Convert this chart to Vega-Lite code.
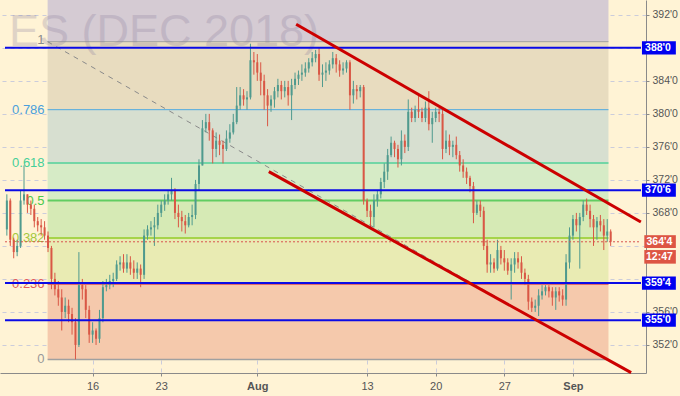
{
"$schema":"https://vega.github.io/schema/vega-lite/v6.json",
"width":646,"height":373,"autosize":"none",
"padding":{"left":0,"top":0,"right":34,"bottom":23},
"background":"#fff3d5",
"config":{"view":{"stroke":null},"axis":{"zindex":1}},
"datasets":{
"bands":[
{"t":-3.28,"t2":37.59,"p":388.75,"p2":393.8,"fill":"#d5cbd3"},
{"t":-3.28,"t2":37.59,"p":380.51,"p2":388.75,"fill":"#e8dcbf"},
{"t":-3.28,"t2":37.59,"p":374.04,"p2":380.51,"fill":"#d7dfd0"},
{"t":-3.28,"t2":37.59,"p":369.5,"p2":374.04,"fill":"#d6ebc6"},
{"t":-3.28,"t2":37.59,"p":364.96,"p2":369.5,"fill":"#d6eab5"},
{"t":-3.28,"t2":37.59,"p":359.34,"p2":364.96,"fill":"#e9ebb3"},
{"t":-3.28,"t2":37.59,"p":350.25,"p2":359.34,"fill":"#f5c9ac"}],
"fib":[
{"t":-3.28,"t2":37.59,"p":388.75,"col":"#a0a0a0","w":1},
{"t":-3.28,"t2":37.59,"p":380.51,"col":"#4ea8e0","w":1},
{"t":-3.28,"t2":37.59,"p":374.04,"col":"#72d6a6","w":2},
{"t":-3.28,"t2":37.59,"p":369.5,"col":"#62cd62","w":2},
{"t":-3.28,"t2":37.59,"p":364.96,"col":"#a6d44a","w":2},
{"t":-3.28,"t2":37.59,"p":359.34,"col":"#e06a6a","w":1.5},
{"t":-3.28,"t2":37.59,"p":350.25,"col":"#a0a0a0","w":1.5}],
"fiblab":[
{"t":-3.5,"p":389.0,"txt":"1","col":"#8c8c8c"},
{"t":-3.5,"p":380.51,"txt":"0.786","col":"#4a9fdc"},
{"t":-3.5,"p":374.04,"txt":"0.618","col":"#45cf98"},
{"t":-3.5,"p":369.5,"txt":"0.5","col":"#4cc94c"},
{"t":-3.5,"p":364.96,"txt":"0.382","col":"#a3c73c"},
{"t":-3.5,"p":359.34,"txt":"0.236","col":"#e25c5c"},
{"t":-3.5,"p":350.25,"txt":"0","col":"#999999"}],
"wm":[{"t":-6.1,"p":388.2,"txt":"ES (DEC 2018)"}],
"trend":[{"t":-3.28,"p":388.75,"t2":37.4,"p2":350.25}],
"hl":[
{"t":-6.385,"t2":39.96,"p":388.0},
{"t":-6.385,"t2":39.96,"p":370.75},
{"t":-6.385,"t2":39.96,"p":359.5},
{"t":-6.385,"t2":39.96,"p":355.0}],
"pl":[{"t":-6.385,"t2":39.96,"p":364.5}],
"chan":[
{"t":14.83,"p":390.87,"t2":39.95,"p2":366.89},
{"t":12.84,"p":373.0,"t2":39.24,"p2":348.64}],
"tagbox":[
{"t":40.03,"t2":42.5,"p":387.2,"p2":388.8,"fill":"#0000f0"},
{"t":40.03,"t2":42.5,"p":369.95,"p2":371.55,"fill":"#0000f0"},
{"t":40.03,"t2":42.5,"p":358.7,"p2":360.3,"fill":"#0000f0"},
{"t":40.03,"t2":42.5,"p":354.2,"p2":355.8,"fill":"#0000f0"},
{"t":40.2,"t2":42.5,"p":363.75,"p2":365.3,"fill":"#dd5544"},
{"t":40.2,"t2":42.5,"p":361.85,"p2":363.5,"fill":"#dd5544"}],
"tagtext":[
{"t":41.2,"p":388.0,"txt":"388'0"},
{"t":41.2,"p":370.75,"txt":"370'6"},
{"t":41.2,"p":359.5,"txt":"359'4"},
{"t":41.2,"p":355.0,"txt":"355'0"},
{"t":41.3,"p":364.5,"txt":"364'4"},
{"t":41.3,"p":362.67,"txt":"12:47"}],
"candles":[
{"t":-6.25,"o":366,"p2":370.25,"p":365.25,"c":369.5},
{"t":-6,"o":369.5,"p2":369.75,"p":364,"c":364.75},
{"t":-5.75,"o":364.75,"p2":365,"p":362.5,"c":363.25},
{"t":-5.5,"o":363.25,"p2":364.75,"p":362.75,"c":364},
{"t":-5.25,"o":364,"p2":370.75,"p":363.75,"c":369.5},
{"t":-5,"o":369.5,"p2":373.75,"p":369,"c":370.25},
{"t":-4.75,"o":370.25,"p2":370.25,"p":368,"c":369},
{"t":-4.5,"o":369,"p2":369.5,"p":367.75,"c":368.5},
{"t":-4.25,"o":368.5,"p2":369,"p":366.25,"c":367},
{"t":-4,"o":367,"p2":367.5,"p":365.75,"c":366.5},
{"t":-3.75,"o":366.5,"p2":367.25,"p":365.25,"c":366.25},
{"t":-3.5,"o":366.25,"p2":367,"p":364.75,"c":365.25},
{"t":-3.25,"o":365.25,"p2":365.75,"p":363.25,"c":363.75},
{"t":-3,"o":363.75,"p2":364,"p":358.75,"c":360},
{"t":-2.75,"o":360,"p2":360.75,"p":358,"c":358.75},
{"t":-2.5,"o":358.75,"p2":359.75,"p":356.75,"c":357.75},
{"t":-2.25,"o":357.75,"p2":358.75,"p":353.75,"c":356},
{"t":-2,"o":356,"p2":357.75,"p":355.25,"c":356.75},
{"t":-1.75,"o":356.75,"p2":357.5,"p":354.75,"c":355.75},
{"t":-1.5,"o":355.75,"p2":356.5,"p":353.25,"c":354.75},
{"t":-1.25,"o":354.75,"p2":355.25,"p":350.25,"c":352},
{"t":-1,"o":352,"p2":363.25,"p":351.75,"c":359.25},
{"t":-0.75,"o":359.25,"p2":360,"p":357.5,"c":358.75},
{"t":-0.5,"o":358.75,"p2":359.25,"p":355.25,"c":356.25},
{"t":-0.25,"o":356.25,"p2":356.75,"p":352.25,"c":353.25},
{"t":0,"o":353.25,"p2":354.75,"p":352.25,"c":353.75},
{"t":0.25,"o":353.75,"p2":354,"p":352,"c":352.75},
{"t":0.5,"o":352.75,"p2":356.25,"p":352.25,"c":355.25},
{"t":0.75,"o":355.25,"p2":359.75,"p":354.75,"c":359},
{"t":1,"o":359,"p2":360,"p":358.5,"c":359.25},
{"t":1.25,"o":359.25,"p2":360.5,"p":358.75,"c":359.75},
{"t":1.5,"o":359.75,"p2":360.75,"p":359,"c":360},
{"t":1.75,"o":360,"p2":362.25,"p":359.75,"c":361.75},
{"t":2,"o":361.75,"p2":362.75,"p":361,"c":362},
{"t":2.25,"o":362,"p2":363,"p":360.75,"c":361.25},
{"t":2.5,"o":361.25,"p2":363,"p":360.75,"c":362},
{"t":2.75,"o":362,"p2":362.75,"p":360.5,"c":361.25},
{"t":3,"o":361.25,"p2":362.25,"p":360,"c":360.75},
{"t":3.25,"o":360.75,"p2":362,"p":360,"c":361.25},
{"t":3.5,"o":361.25,"p2":361.75,"p":359,"c":360.5},
{"t":3.75,"o":360.5,"p2":366,"p":360,"c":365.25},
{"t":4,"o":365.25,"p2":366.5,"p":364.75,"c":366},
{"t":4.25,"o":366,"p2":367,"p":365.25,"c":366.25},
{"t":4.5,"o":366.25,"p2":367.5,"p":364,"c":366.5},
{"t":4.75,"o":366.5,"p2":369,"p":366,"c":368},
{"t":5,"o":368,"p2":369.5,"p":367.5,"c":369},
{"t":5.25,"o":369,"p2":370.25,"p":368.25,"c":369.5},
{"t":5.5,"o":369.5,"p2":370.75,"p":369,"c":370.25},
{"t":5.75,"o":370.25,"p2":372.25,"p":369.5,"c":370.75},
{"t":6,"o":370.75,"p2":371,"p":367.25,"c":368},
{"t":6.25,"o":368,"p2":369,"p":366.25,"c":367.5},
{"t":6.5,"o":367.5,"p2":368.25,"p":365.75,"c":367},
{"t":6.75,"o":367,"p2":367.75,"p":365.5,"c":366.5},
{"t":7,"o":366.5,"p2":368,"p":366.25,"c":367.5},
{"t":7.25,"o":367.5,"p2":369,"p":366.5,"c":367.75},
{"t":7.5,"o":367.75,"p2":372,"p":367.25,"c":371.5},
{"t":7.75,"o":371.5,"p2":374.5,"p":370.75,"c":373.75},
{"t":8,"o":373.75,"p2":379.25,"p":373.75,"c":378.25},
{"t":8.25,"o":378.25,"p2":380,"p":377.75,"c":379},
{"t":8.5,"o":379,"p2":380,"p":376.75,"c":378},
{"t":8.75,"o":378,"p2":378.25,"p":374,"c":375.75},
{"t":9,"o":375.75,"p2":377.75,"p":374.75,"c":376.75},
{"t":9.25,"o":376.75,"p2":377.5,"p":375,"c":376.25},
{"t":9.5,"o":376.25,"p2":376.75,"p":374,"c":375.75},
{"t":9.75,"o":375.75,"p2":378,"p":375.5,"c":377},
{"t":10,"o":377,"p2":378.75,"p":376.5,"c":377.75},
{"t":10.25,"o":377.75,"p2":380,"p":377.5,"c":379},
{"t":10.5,"o":379,"p2":383.25,"p":378.75,"c":381},
{"t":10.75,"o":381,"p2":383.25,"p":380.5,"c":382.25},
{"t":11,"o":382.25,"p2":383,"p":381,"c":381.75},
{"t":11.25,"o":381.75,"p2":382.75,"p":380.5,"c":382},
{"t":11.5,"o":382,"p2":388.5,"p":381.75,"c":386.5},
{"t":11.75,"o":386.5,"p2":387.5,"p":384.75,"c":386.25},
{"t":12,"o":386.25,"p2":387.25,"p":384,"c":385},
{"t":12.25,"o":385,"p2":386.25,"p":382.25,"c":384},
{"t":12.5,"o":384,"p2":384.75,"p":380.5,"c":382.25},
{"t":12.75,"o":382.25,"p2":383,"p":378.5,"c":381},
{"t":13,"o":381,"p2":382.25,"p":380.25,"c":381.75},
{"t":13.25,"o":381.75,"p2":383.25,"p":380.75,"c":382.75},
{"t":13.5,"o":382.75,"p2":384.25,"p":382,"c":383.5},
{"t":13.75,"o":383.5,"p2":384,"p":381.75,"c":382.75},
{"t":14,"o":382.75,"p2":384,"p":382,"c":383.25},
{"t":14.25,"o":383.25,"p2":384,"p":381,"c":382.25},
{"t":14.5,"o":382.25,"p2":384.25,"p":379.25,"c":383.5},
{"t":14.75,"o":383.5,"p2":385,"p":383,"c":384.25},
{"t":15,"o":384.25,"p2":385.25,"p":383.5,"c":384.75},
{"t":15.25,"o":384.75,"p2":386,"p":384,"c":385},
{"t":15.5,"o":385,"p2":386.25,"p":384.5,"c":385.5},
{"t":15.75,"o":385.5,"p2":386.75,"p":385,"c":386.25},
{"t":16,"o":386.25,"p2":387.5,"p":385.75,"c":386.75},
{"t":16.25,"o":386.75,"p2":387.75,"p":386.25,"c":387.25},
{"t":16.5,"o":387.25,"p2":388,"p":384,"c":384.75},
{"t":16.75,"o":384.75,"p2":386,"p":383.25,"c":385},
{"t":17,"o":385,"p2":386.25,"p":384,"c":385.25},
{"t":17.25,"o":385.25,"p2":386.5,"p":384.75,"c":386},
{"t":17.5,"o":386,"p2":387.5,"p":385.5,"c":386.75},
{"t":17.75,"o":386.75,"p2":387.25,"p":385,"c":386},
{"t":18,"o":386,"p2":386.5,"p":384.5,"c":385.25},
{"t":18.25,"o":385.25,"p2":386.25,"p":384.75,"c":385.5},
{"t":18.5,"o":385.5,"p2":386.5,"p":385,"c":386.25},
{"t":18.75,"o":386.25,"p2":386.5,"p":380.5,"c":382.25},
{"t":19,"o":382.25,"p2":384,"p":381.25,"c":383},
{"t":19.25,"o":383,"p2":383.5,"p":381.75,"c":382.75},
{"t":19.5,"o":382.75,"p2":383.5,"p":382,"c":383.25},
{"t":19.75,"o":383.25,"p2":383.5,"p":369,"c":369.5},
{"t":20,"o":369.5,"p2":369.75,"p":367.5,"c":368.25},
{"t":20.25,"o":368.25,"p2":369,"p":366.25,"c":367.5},
{"t":20.5,"o":367.5,"p2":370.25,"p":366.25,"c":369.5},
{"t":20.75,"o":369.5,"p2":370.75,"p":368.75,"c":370.25},
{"t":21,"o":370.25,"p2":372.25,"p":369.75,"c":371.75},
{"t":21.25,"o":371.75,"p2":374,"p":371,"c":373},
{"t":21.5,"o":373,"p2":375.75,"p":372,"c":375},
{"t":21.75,"o":375,"p2":377.25,"p":374.75,"c":376.5},
{"t":22,"o":376.5,"p2":376.75,"p":374.75,"c":375.75},
{"t":22.25,"o":375.75,"p2":376.25,"p":373.5,"c":374.5},
{"t":22.5,"o":374.5,"p2":378,"p":373.75,"c":376.75},
{"t":22.75,"o":376.75,"p2":377.5,"p":375.25,"c":376},
{"t":23,"o":376,"p2":381.75,"p":375.5,"c":380.25},
{"t":23.25,"o":380.25,"p2":380.75,"p":379,"c":379.5},
{"t":23.5,"o":379.5,"p2":381,"p":379,"c":380.5},
{"t":23.75,"o":380.5,"p2":382.25,"p":379.5,"c":380.25},
{"t":24,"o":380.25,"p2":380.75,"p":379,"c":379.5},
{"t":24.25,"o":379.5,"p2":381.5,"p":379,"c":380.75},
{"t":24.5,"o":380.75,"p2":382.75,"p":378,"c":378.75},
{"t":24.75,"o":378.75,"p2":380.25,"p":376.5,"c":379.5},
{"t":25,"o":379.5,"p2":380.75,"p":379,"c":380.25},
{"t":25.25,"o":380.25,"p2":380.75,"p":379,"c":380},
{"t":25.5,"o":380,"p2":380.5,"p":374.5,"c":375.75},
{"t":25.75,"o":375.75,"p2":378,"p":375.25,"c":376.75},
{"t":26,"o":376.75,"p2":377.5,"p":375,"c":376},
{"t":26.25,"o":376,"p2":376.75,"p":374.75,"c":376.25},
{"t":26.5,"o":376.25,"p2":377.25,"p":374.5,"c":375},
{"t":26.75,"o":375,"p2":375.5,"p":373,"c":373.75},
{"t":27,"o":373.75,"p2":374.5,"p":372.25,"c":373},
{"t":27.25,"o":373,"p2":373.5,"p":371.5,"c":372.25},
{"t":27.5,"o":372.25,"p2":372.5,"p":370.5,"c":371.25},
{"t":27.75,"o":371.25,"p2":371.75,"p":366.75,"c":368},
{"t":28,"o":368,"p2":369.5,"p":367.75,"c":369},
{"t":28.25,"o":369,"p2":369.5,"p":367.5,"c":368.25},
{"t":28.5,"o":368.25,"p2":368.75,"p":363.5,"c":364},
{"t":28.75,"o":364,"p2":364.75,"p":360.75,"c":361.75},
{"t":29,"o":361.75,"p2":363,"p":360.75,"c":362},
{"t":29.25,"o":362,"p2":362.5,"p":360.75,"c":361.25},
{"t":29.5,"o":361.25,"p2":364.75,"p":361,"c":363.5},
{"t":29.75,"o":363.5,"p2":364,"p":361.75,"c":362.5},
{"t":30,"o":362.5,"p2":363.5,"p":361,"c":362},
{"t":30.25,"o":362,"p2":362.5,"p":360.5,"c":361},
{"t":30.5,"o":361,"p2":362.5,"p":357.5,"c":361.75},
{"t":30.75,"o":361.75,"p2":363.25,"p":360.75,"c":362.5},
{"t":31,"o":362.5,"p2":363.25,"p":361.25,"c":362},
{"t":31.25,"o":362,"p2":362.75,"p":360,"c":360.75},
{"t":31.5,"o":360.75,"p2":361.25,"p":359.25,"c":360},
{"t":31.75,"o":360,"p2":360.5,"p":356.25,"c":357.25},
{"t":32,"o":357.25,"p2":357.75,"p":356,"c":356.5},
{"t":32.25,"o":356.5,"p2":357.5,"p":356,"c":356.75},
{"t":32.5,"o":356.75,"p2":358.75,"p":355.5,"c":358},
{"t":32.75,"o":358,"p2":359.25,"p":357.5,"c":358.5},
{"t":33,"o":358.5,"p2":359.25,"p":358,"c":359},
{"t":33.25,"o":359,"p2":359.25,"p":357.75,"c":358.5},
{"t":33.5,"o":358.5,"p2":359,"p":356.75,"c":357.75},
{"t":33.75,"o":357.75,"p2":359,"p":356.25,"c":358.5},
{"t":34,"o":358.5,"p2":359,"p":357.25,"c":358},
{"t":34.25,"o":358,"p2":358.75,"p":356.75,"c":357.5},
{"t":34.5,"o":357.5,"p2":363,"p":356.75,"c":362},
{"t":34.75,"o":362,"p2":366.25,"p":361.25,"c":365.25},
{"t":35,"o":365.25,"p2":367.75,"p":364.75,"c":367.25},
{"t":35.25,"o":367.25,"p2":368,"p":365.75,"c":366.5},
{"t":35.5,"o":366.5,"p2":368,"p":361.25,"c":367.5},
{"t":35.75,"o":367.5,"p2":369.5,"p":367,"c":369},
{"t":36,"o":369,"p2":369.75,"p":367.75,"c":368.25},
{"t":36.25,"o":368.25,"p2":369,"p":366.25,"c":367.25},
{"t":36.5,"o":367.25,"p2":367.75,"p":364,"c":366.25},
{"t":36.75,"o":366.25,"p2":367.5,"p":364.75,"c":367},
{"t":37,"o":367,"p2":367.75,"p":365.75,"c":366.5},
{"t":37.25,"o":366.5,"p2":367.25,"p":363.5,"c":365.25},
{"t":37.5,"o":365.25,"p2":367.25,"p":364.5,"c":365.75},
{"t":37.75,"o":365.75,"p2":366,"p":364,"c":364.5}]
},
"encoding":{
"x":{"field":"t","type":"quantitative","scale":{"domain":[-6.385,39.96],"nice":false,"zero":false},
 "axis":{"orient":"bottom","values":[0,5,12,20,25,30,35],
 "labelExpr":"datum.value==0?'16':datum.value==5?'23':datum.value==12?'Aug':datum.value==20?'13':datum.value==25?'20':datum.value==30?'27':'Sep'",
 "title":null,"grid":true,"gridColor":"#a9b3e0","gridOpacity":0.6,"gridDash":[4,4],
 "domainColor":"#8a8a8a","tickColor":"#8a8a8a","tickSize":3,"labelColor":"#555555",
 "labelFont":"Liberation Sans","labelFontSize":11,"labelPadding":4,
 "labelFontWeight":{"condition":{"test":"datum.value==12||datum.value==35","value":"bold"},"value":"normal"}}},
"y":{"field":"p","type":"quantitative","scale":{"domain":[348.6,393.8],"nice":false,"zero":false},
 "axis":{"orient":"right","values":[352,356,360,364,368,372,376,380,384,388,392],
 "labelExpr":"(datum.value==360||datum.value==364||datum.value==388)?'':datum.value+\"'0\"",
 "title":null,"grid":true,"gridColor":"#a9b3e0","gridOpacity":0.6,"gridDash":[4,4],
 "domainColor":"#8a8a8a","tickColor":"#8a8a8a","tickSize":3,"labelColor":"#555555",
 "labelFont":"Liberation Sans","labelFontSize":10.5,"labelPadding":3}}
},
"layer":[
{"data":{"name":"bands"},"mark":{"type":"rect"},
 "encoding":{"x2":{"field":"t2"},"y2":{"field":"p2"},"color":{"field":"fill","type":"nominal","scale":null}}},
{"data":{"name":"fib"},"mark":{"type":"rule"},
 "encoding":{"x2":{"field":"t2"},"color":{"field":"col","type":"nominal","scale":null},"strokeWidth":{"field":"w","type":"quantitative","scale":null}}},
{"data":{"name":"fiblab"},"mark":{"type":"text","align":"right","baseline":"middle","font":"Liberation Sans","fontSize":13},
 "encoding":{"text":{"field":"txt"},"color":{"field":"col","type":"nominal","scale":null}}},
{"data":{"name":"wm"},"mark":{"type":"text","align":"left","baseline":"alphabetic","font":"Liberation Sans","fontSize":45,"color":"#8e82a0","opacity":0.28},
 "encoding":{"text":{"field":"txt"}}},
{"data":{"name":"trend"},"mark":{"type":"rule","color":"#8a8a8a","strokeDash":[5,5],"strokeWidth":1},
 "encoding":{"x2":{"field":"t2"},"y2":{"field":"p2"}}},
{"data":{"name":"candles"},"mark":{"type":"rule","strokeWidth":1},
 "encoding":{"y2":{"field":"p2"},"color":{"condition":{"test":"datum.c>=datum.o","value":"#4f9a8e"},"value":"#d95745"}}},
{"data":{"name":"candles"},"mark":{"type":"bar","size":2},
 "encoding":{"y":{"field":"o","type":"quantitative","scale":{"domain":[348.6,393.8],"nice":false,"zero":false},
 "axis":{"orient":"right","values":[352,356,360,364,368,372,376,380,384,388,392],
 "labelExpr":"(datum.value==360||datum.value==364||datum.value==388)?'':datum.value+\"'0\"",
 "title":null,"grid":true,"gridColor":"#a9b3e0","gridOpacity":0.6,"gridDash":[4,4],
 "domainColor":"#8a8a8a","tickColor":"#8a8a8a","tickSize":3,"labelColor":"#555555",
 "labelFont":"Liberation Sans","labelFontSize":10.5,"labelPadding":3}},"y2":{"field":"c"},
 "color":{"condition":{"test":"datum.c>=datum.o","value":"#4f9a8e"},"value":"#d95745"}}},
{"data":{"name":"hl"},"mark":{"type":"rule","color":"#0a0ae6","strokeWidth":2},
 "encoding":{"x2":{"field":"t2"}}},
{"data":{"name":"pl"},"mark":{"type":"rule","color":"#d9534f","strokeDash":[2,2],"strokeWidth":1},
 "encoding":{"x2":{"field":"t2"}}},
{"data":{"name":"chan"},"mark":{"type":"rule","color":"#cc0000","strokeWidth":3},
 "encoding":{"x2":{"field":"t2"},"y2":{"field":"p2"}}},
{"data":{"name":"tagbox"},"mark":{"type":"rect"},
 "encoding":{"x2":{"field":"t2"},"y2":{"field":"p2"},"color":{"field":"fill","type":"nominal","scale":null}}},
{"data":{"name":"tagtext"},"mark":{"type":"text","align":"center","baseline":"middle","font":"Liberation Sans","fontSize":10.5,"fontWeight":"bold","color":"#ffffff"},
 "encoding":{"text":{"field":"txt"}}}
]
}
